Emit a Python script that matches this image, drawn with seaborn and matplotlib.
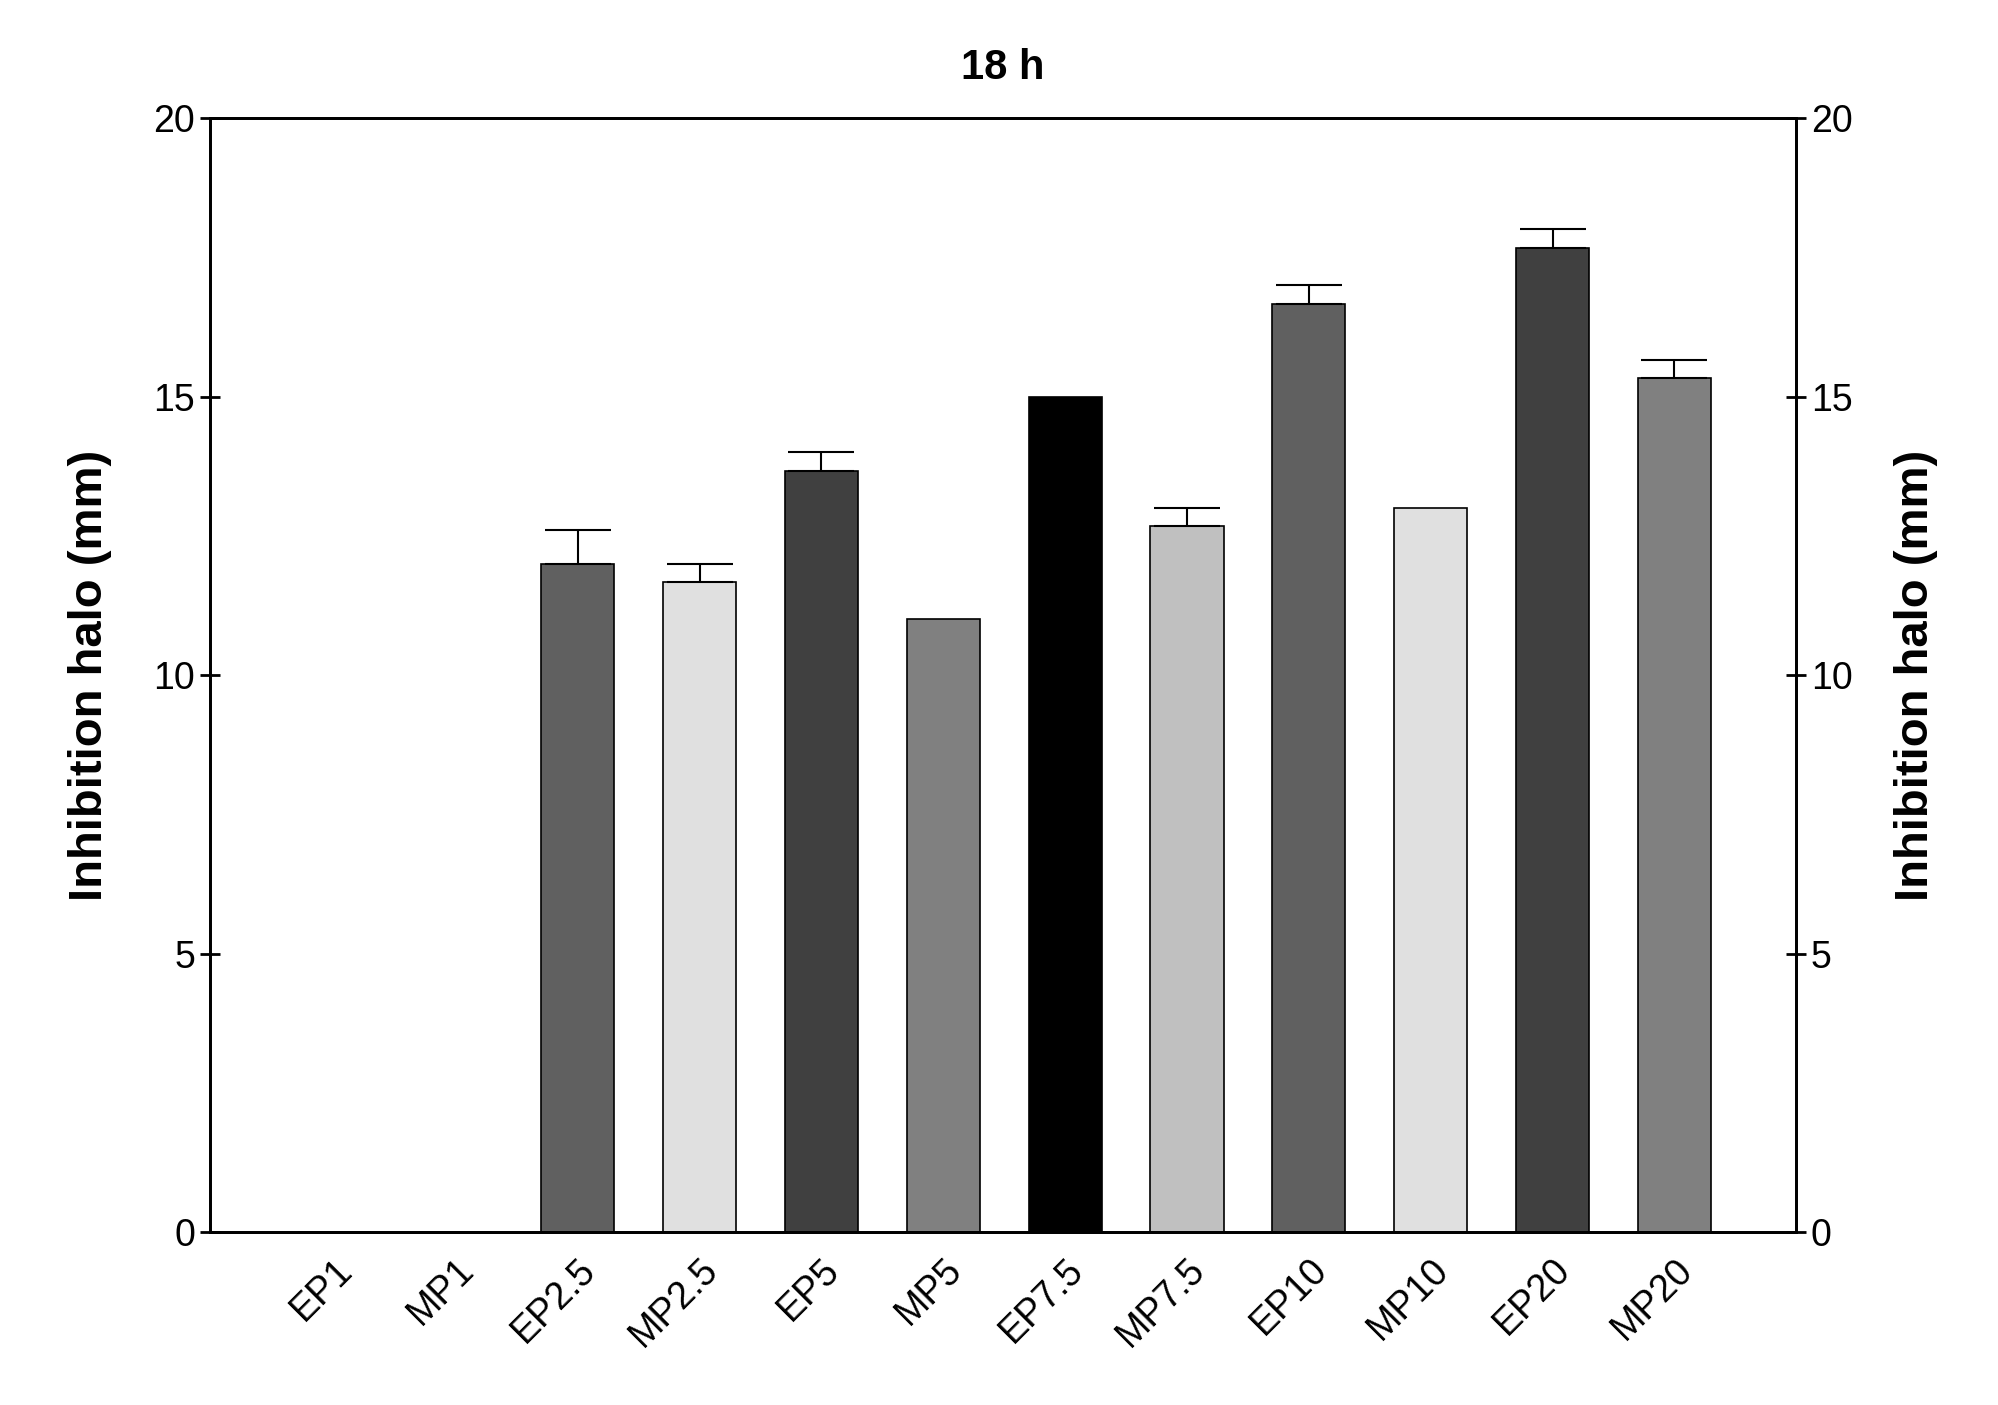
import numpy as np
import pandas as pd
import matplotlib
matplotlib.use("Agg")
import matplotlib.pyplot as plt
import seaborn as sns

categorias = ['EP1', 'MP1', 'EP2.5', 'MP2.5', 'EP5', 'MP5', 'EP7.5', 'MP7.5', 'EP10', 'MP10', 'EP20', 'MP20']
halo = [0, 0, 12.0, 11.67, 13.67, 11.0, 15.0, 12.67, 16.67, 13.0, 17.67, 15.33]
erro = [0, 0, 0.6, 0.33, 0.33, 0, 0, 0.33, 0.33, 0, 0.33, 0.33]
cores = ['#606060', '#e0e0e0', '#606060', '#e0e0e0', '#404040', '#808080',
         '#000000', '#c0c0c0', '#606060', '#e0e0e0', '#404040', '#808080']

sns.set_style('white')
plt.rcParams['font.family'] = ['Liberation Sans', 'DejaVu Sans']
plt.rcParams['text.color'] = 'black'
plt.rcParams['axes.labelcolor'] = 'black'
plt.rcParams['xtick.color'] = 'black'
plt.rcParams['ytick.color'] = 'black'

dados = pd.DataFrame({'cat': categorias, 'halo': halo})

fig = plt.figure(figsize=(19.98, 14.05), dpi=100)
ax = fig.add_axes([0.105, 0.123, 0.794, 0.793])
sns.barplot(data=dados, x='cat', y='halo', hue='cat', palette=cores, legend=False,
            width=0.6, edgecolor='black', linewidth=1.2, saturation=1, ax=ax)
x = np.arange(len(categorias))
mask = np.array(erro) > 0
ax.errorbar(x[mask], np.array(halo)[mask], yerr=[np.zeros(mask.sum()), np.array(erro)[mask]],
            fmt='none', ecolor='black', elinewidth=1.5, capsize=24, capthick=1.5)

ax.set_xlim(-1.02, 12.0)
ax.set_ylim(0, 20)
ax.set_yticks([0, 5, 10, 15, 20])
ax.set_xlabel('')
ax.set_ylabel('Inhibition halo (mm)', fontsize=34, fontweight='bold', labelpad=30)
ax.set_title('18 h', fontsize=30, fontweight='bold', pad=28)
ax.set_xticks(x)
ax.set_xticklabels(categorias, rotation=45, ha='right', rotation_mode='anchor', fontsize=27)
ax.tick_params(axis='y', labelsize=27, direction='inout', length=14, width=2, left=True)
ax.tick_params(axis='x', direction='out', length=0, pad=14)
for s in ax.spines.values():
    s.set_linewidth(2)
    s.set_color('black')

ax2 = ax.twinx()
ax2.set_ylim(0, 20)
ax2.set_yticks([0, 5, 10, 15, 20])
ax2.set_ylabel('Inhibition halo (mm)', fontsize=34, fontweight='bold', labelpad=30)
ax2.tick_params(axis='y', labelsize=27, direction='inout', length=14, width=2, right=True)
for s in ax2.spines.values():
    s.set_linewidth(2)
    s.set_color('black')

fig.savefig('out.png', dpi=100)
